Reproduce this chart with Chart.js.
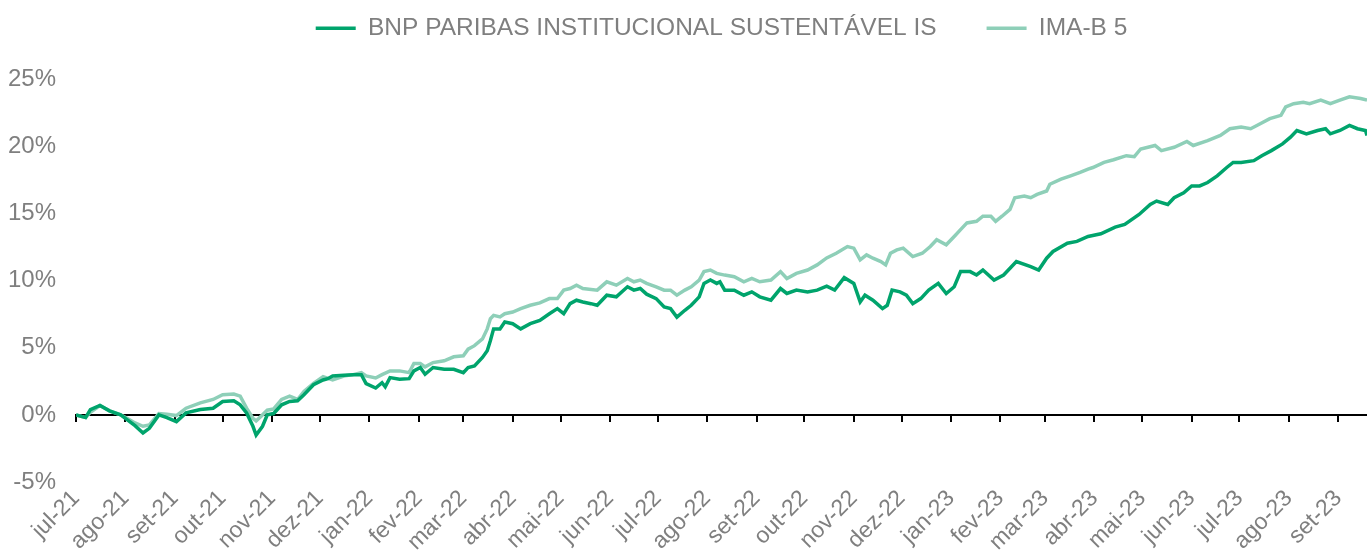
<!DOCTYPE html>
<html>
<head>
<meta charset="utf-8">
<script src="https://cdn.jsdelivr.net/npm/chart.js@4.4.0/dist/chart.umd.min.js"></script>
<style>
  html, body { margin: 0; padding: 0; background: #fff; }
  #wrap { width: 1367px; height: 559px; }
</style>
</head>
<body>
<div id="wrap"><canvas id="perfChart"></canvas></div>
<script>
// month ticks (first day of each month, counted from 1 jul 2021)
const monthLabels = ["jul-21", "ago-21", "set-21", "out-21", "nov-21", "dez-21", "jan-22", "fev-22", "mar-22",
  "abr-22", "mai-22", "jun-22", "jul-22", "ago-22", "set-22", "out-22", "nov-22", "dez-22", "jan-23",
  "fev-23", "mar-23", "abr-23", "mai-23", "jun-23", "jul-23", "ago-23", "set-23"];
const lastDay = 810;
const yTicks = [-5, 0, 5, 10, 15, 20, 25];

// BNP PARIBAS INSTITUCIONAL SUSTENTÁVEL IS (accumulated %, day offset)
const fundDays = [0, 6, 9, 15, 21, 28, 32, 37, 42, 46, 52, 57, 63, 69, 78, 86, 92, 99, 103, 107, 111, 113, 117, 120,
  124, 129, 134, 139, 143, 149, 155, 158, 161, 168, 174, 179, 182, 188, 192, 194, 197, 203, 209, 212, 216, 219, 224,
  231, 237, 243, 246, 250, 255, 258, 260, 262, 266, 269, 274, 279, 285, 291, 297, 302, 306, 310, 314, 318, 323, 327,
  333, 339, 346, 350, 354, 358, 364, 369, 373, 377, 382, 386, 391, 394, 398, 402, 404, 407, 413, 419, 424, 429, 436,
  442, 446, 452, 459, 465, 471, 476, 482, 488, 492, 495, 500, 506, 509, 512, 517, 521, 525, 530, 535, 541, 546, 551,
  555, 561, 565, 569, 576, 582, 590, 599, 604, 609, 613, 622, 628, 635, 643, 652, 658, 667, 674, 678, 685, 689, 695,
  700, 705, 710, 716, 722, 726, 731, 739, 744, 750, 757, 762, 766, 772, 779, 784, 787, 793, 799, 804, 809, 810];
const fundValues = [0, -0.2, 0.4, 0.7, 0.3, 0.0, -0.35, -0.8, -1.35, -1.0, 0.0, -0.2, -0.5, 0.15, 0.4, 0.5, 1.0, 1.05,
  0.75, 0.15, -0.85, -1.5, -0.85, 0.0, 0.1, 0.75, 1.0, 1.05, 1.5, 2.25, 2.6, 2.7, 2.9, 2.95, 3.0, 3.0, 2.33, 2.0, 2.4,
  2.1, 2.78, 2.65, 2.7, 3.28, 3.53, 3.03, 3.53, 3.4, 3.4, 3.15, 3.53, 3.65, 4.28, 4.78, 5.54, 6.41, 6.41, 6.92, 6.8,
  6.41, 6.8, 7.04, 7.54, 7.92, 7.54, 8.29, 8.55, 8.42, 8.29, 8.17, 8.92, 8.8, 9.55, 9.3, 9.42, 9.0, 8.67, 8.04, 7.92,
  7.29, 7.8, 8.17, 8.8, 9.8, 10.05, 9.8, 9.92, 9.3, 9.3, 8.92, 9.17, 8.8, 8.55, 9.42, 9.05, 9.3, 9.17, 9.3, 9.6, 9.3,
  10.23, 9.8, 8.42, 8.92, 8.55, 7.92, 8.17, 9.3, 9.17, 8.92, 8.29, 8.67, 9.3, 9.8, 9.05, 9.55, 10.68, 10.68, 10.43,
  10.8, 10.05, 10.43, 11.43, 11.05, 10.8, 11.68, 12.18, 12.8, 12.93, 13.3, 13.5, 14.0, 14.2, 14.94, 15.69, 15.94,
  15.69, 16.19, 16.56, 17.07, 17.07, 17.32, 17.82, 18.44, 18.82, 18.82, 18.95, 19.32, 19.7, 20.2, 20.7, 21.2, 20.95,
  21.2, 21.33, 20.95, 21.2, 21.58, 21.33, 21.2, 20.83];

// IMA-B 5
const imaDays = [0, 6, 9, 15, 21, 28, 32, 37, 42, 46, 52, 57, 63, 69, 78, 86, 92, 99, 103, 107, 111, 113, 117, 120,
  124, 129, 134, 139, 143, 149, 155, 161, 168, 174, 179, 182, 188, 192, 197, 203, 209, 212, 216, 219, 224, 231, 237,
  243, 246, 250, 255, 258, 260, 262, 266, 269, 274, 279, 285, 291, 297, 302, 306, 310, 314, 318, 327, 333, 339, 346,
  350, 354, 358, 364, 369, 373, 377, 382, 386, 391, 394, 398, 402, 407, 413, 419, 424, 429, 436, 442, 446, 452, 459,
  465, 471, 477, 484, 488, 492, 496, 500, 505, 508, 511, 515, 519, 525, 531, 536, 540, 546, 551, 555, 559, 565, 569,
  574, 577, 581, 586, 589, 595, 599, 603, 609, 611, 618, 624, 630, 635, 638, 645, 651, 659, 664, 668, 677, 681, 689,
  697, 701, 710, 718, 724, 731, 737, 743, 749, 756, 759, 764, 770, 774, 781, 787, 793, 799, 806, 810];
const imaValues = [0, -0.2, 0.2, 0.7, 0.3, 0.0, -0.25, -0.6, -0.85, -0.75, 0.1, 0.05, -0.05, 0.5, 0.9, 1.15, 1.5,
  1.55, 1.4, 0.5, -0.25, -0.45, 0.0, 0.35, 0.45, 1.15, 1.4, 1.15, 1.75, 2.35, 2.85, 2.6, 2.9, 3.0, 3.15, 2.9, 2.75,
  3.0, 3.28, 3.28, 3.15, 3.83, 3.83, 3.58, 3.9, 4.03, 4.33, 4.4, 4.9, 5.16, 5.66, 6.41, 7.17, 7.42, 7.3, 7.54, 7.67,
  7.92, 8.17, 8.35, 8.67, 8.67, 9.3, 9.42, 9.67, 9.42, 9.3, 9.92, 9.67, 10.17, 9.92, 10.05, 9.8, 9.55, 9.3, 9.3, 8.92,
  9.3, 9.55, 10.05, 10.68, 10.8, 10.55, 10.42, 10.3, 9.92, 10.17, 9.92, 10.05, 10.68, 10.17, 10.55, 10.8, 11.18, 11.7,
  12.05, 12.55, 12.43, 11.55, 11.93, 11.68, 11.43, 11.18, 12.05, 12.3, 12.43, 11.8, 12.05, 12.55, 13.06, 12.68, 13.3,
  13.81, 14.31, 14.43, 14.81, 14.81, 14.43, 14.81, 15.32, 16.19, 16.31, 16.19, 16.44, 16.69, 17.19, 17.57, 17.82,
  18.07, 18.32, 18.44, 18.82, 19.02, 19.32, 19.25, 19.82, 20.08, 19.7, 19.95, 20.38, 20.08, 20.45, 20.83, 21.33,
  21.45, 21.33, 21.7, 22.08, 22.33, 22.95, 23.2, 23.3, 23.2, 23.46, 23.2, 23.46, 23.71, 23.58, 23.46];

const fundColor = "#00A46C";
const imaColor = "#8ECFB8";
const textGray = "#7F7F7F";
const fontFamily = "'Liberation Sans', Arial, sans-serif";

const startDate = Date.UTC(2021, 6, 1);
const monthDays = monthLabels.map((l, i) => (Date.UTC(2021, 6 + i, 1) - startDate) / 86400000);

const setMonthTicks = (scale) => {
  scale.ticks = monthDays.map((v) => ({ value: v }));
};

const ctx = document.getElementById("perfChart").getContext("2d");
const perfChart = new Chart(ctx, {
  type: "line",
  data: {
    datasets: [
      {
        label: "BNP PARIBAS INSTITUCIONAL SUSTENTÁVEL IS",
        data: fundDays.map((d, i) => ({ x: d, y: fundValues[i] })),
        borderColor: fundColor,
        backgroundColor: fundColor,
        borderWidth: 3.5,
        pointRadius: 0,
        tension: 0,
        xAxisID: "x",
      },
      {
        label: "IMA-B 5",
        data: imaDays.map((d, i) => ({ x: d, y: imaValues[i] })),
        borderColor: imaColor,
        backgroundColor: imaColor,
        borderWidth: 3.5,
        pointRadius: 0,
        tension: 0,
        xAxisID: "x",
      },
    ],
  },
  options: {
    responsive: true,
    maintainAspectRatio: false,
    animation: false,
    layout: {
      padding: { left: -12, right: 0, top: -34, bottom: 0 },
    },
    plugins: {
      legend: {
        position: "top",
        fullSize: false,
        labels: {
          color: textGray,
          font: { family: fontFamily, size: 24.5 },
          usePointStyle: true,
          pointStyle: "line",
          pointStyleWidth: 40,
          padding: 50,
        },
      },
      // empty spacer between legend and plot area
      subtitle: {
        display: true,
        fullSize: false,
        text: "",
        position: "top",
        weight: 500,
        font: { size: 1, lineHeight: 1 },
        padding: { top: 28, bottom: 0 },
      },
      tooltip: { enabled: false },
    },
    scales: {
      x: {
        type: "linear",
        min: 0,
        max: lastDay,
        afterBuildTicks: setMonthTicks,
        ticks: {
          autoSkip: false,
          maxRotation: 45,
          minRotation: 45,
          color: textGray,
          font: { family: fontFamily, size: 23 },
          padding: 3,
          callback: (v, i) => monthLabels[i],
        },
        grid: { display: false, drawTicks: false },
        border: { display: false },
      },
      x0: {
        type: "linear",
        axis: "x",
        position: { y: 0 },
        min: 0,
        max: lastDay,
        afterBuildTicks: setMonthTicks,
        ticks: { display: false },
        grid: { drawOnChartArea: false, drawTicks: true, tickLength: 6, color: "#000", lineWidth: 2 },
        border: { display: true, color: "#000", width: 2 },
      },
      y: {
        min: -5,
        max: 25,
        afterBuildTicks: (scale) => {
          scale.ticks = yTicks.map((v) => ({ value: v }));
        },
        ticks: {
          color: textGray,
          font: { family: fontFamily, size: 24 },
          padding: 20,
          callback: (v) => v + "%",
        },
        grid: { display: false, drawTicks: false },
        border: { display: false },
      },
    },
  },
});
</script>
</body>
</html>
